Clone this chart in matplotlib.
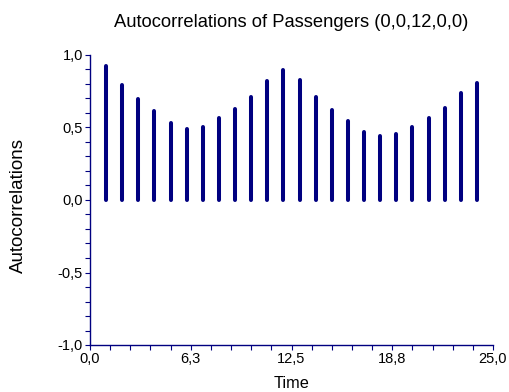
import matplotlib
matplotlib.use("Agg")
import matplotlib.pyplot as plt
from matplotlib.ticker import MultipleLocator, FixedLocator

# Autocorrelation values by lag
lags = list(range(1, 25))
acf = [0.924, 0.795, 0.696, 0.614, 0.529, 0.492, 0.506, 0.563, 0.630, 0.713,
       0.823, 0.899, 0.825, 0.710, 0.621, 0.547, 0.471, 0.444, 0.455, 0.503,
       0.566, 0.637, 0.738, 0.805]

x_ticks = [0.0, 6.25, 12.5, 18.75, 25.0]
x_tick_labels = ["0,0", "6,3", "12,5", "18,8", "25,0"]
y_ticks = [-1.0, -0.5, 0.0, 0.5, 1.0]
y_tick_labels = ["-1,0", "-0,5", "0,0", "0,5", "1,0"]

plt.rcParams['font.family'] = ['Liberation Sans', 'DejaVu Sans']

navy = "#000080"
fig = plt.figure(figsize=(5.10, 3.92), dpi=100)
ax = fig.add_axes([90/510, 1-345/392, (493-90)/510, (345-55)/392])

ax.vlines(lags, 0, acf, colors=navy, linewidth=2.9, capstyle="round")

ax.set_xlim(0, 25)
ax.set_ylim(-1, 1)
ax.xaxis.set_major_locator(FixedLocator(x_ticks))
ax.set_xticklabels(x_tick_labels)
ax.xaxis.set_minor_locator(MultipleLocator(1.25))
ax.yaxis.set_major_locator(FixedLocator(y_ticks))
ax.set_yticklabels(y_tick_labels)
ax.yaxis.set_minor_locator(MultipleLocator(0.1))

for s in ["top", "right"]:
    ax.spines[s].set_visible(False)
for s in ["left", "bottom"]:
    ax.spines[s].set_color(navy)
    ax.spines[s].set_linewidth(1.0)

ax.tick_params(which="both", direction="out", length=3.5, width=0.8,
               color=navy, labelcolor="black", labelsize=10.5, pad=1.5)

ax.set_title("Autocorrelations of Passengers (0,0,12,0,0)", fontsize=13.2,
             y=(345 - 22) / 290, va="center", pad=0)
ax.set_xlabel("Time", fontsize=11.7, va="center")
ax.xaxis.set_label_coords(0.5, (345 - 383) / 290)
ax.set_ylabel("Autocorrelations", fontsize=13.5, va="center")
ax.yaxis.set_label_coords((18 - 90) / 403, 0.48)

fig.savefig("out.png", dpi=100)
